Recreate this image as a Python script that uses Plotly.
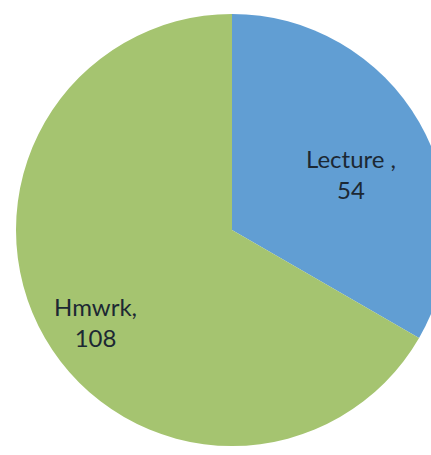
import math
import plotly.graph_objects as go

labels = ["Lecture ", "Hmwrk"]
values = [54, 108]
colors = ["#619ed3", "#a5c470"]

# label placement (style): fraction of radius and angular nudge per slice
label_r = [0.61, 0.76]
label_nudge = [-5, 4]

W, H = 460, 455
CX, CY, R = 232, 230, 216  # pixel centre / radius of pie

fig = go.Figure(go.Pie(
    labels=labels,
    values=values,
    sort=False,
    direction="clockwise",
    rotation=0,
    marker=dict(colors=colors, line=dict(width=0)),
    textinfo="none",
    domain=dict(x=[(CX - R) / W, (CX + R) / W], y=[0.0, 0.989]),
    showlegend=False,
    hoverinfo="label+value",
))

total = sum(values)
cum = 0
for lab, v, fr, nd in zip(labels, values, label_r, label_nudge):
    ang = math.radians(90 - 360 * (cum + v / 2) / total + nd)
    cum += v
    px = CX + fr * R * math.cos(ang)
    py = CY - fr * R * math.sin(ang)
    fig.add_annotation(
        x=px / W, y=1 - py / H, xref="paper", yref="paper",
        text=f"{lab},<br>{v}", showarrow=False,
        xanchor="center", yanchor="middle", align="center",
        font=dict(family="Lato", size=24, color="#1c2833"),
    )

fig.update_layout(
    width=W,
    height=H,
    margin=dict(l=0, r=0, t=0, b=0),
    paper_bgcolor="white",
    plot_bgcolor="white",
)

fig.write_html("out.html")
